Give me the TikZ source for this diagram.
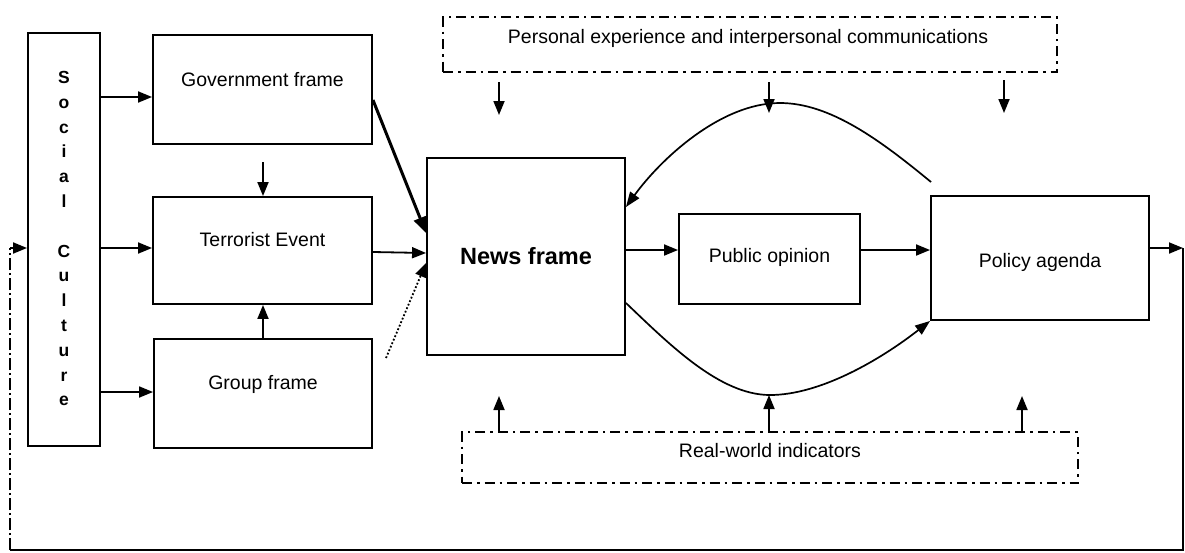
\documentclass[tikz,border=0pt]{standalone}
\usepackage{fontspec}
\setmainfont{Liberation Sans}
\usetikzlibrary{arrows.meta,calc}
\begin{document}
\begin{tikzpicture}[x=1pt,y=-1pt,
  box/.style={draw,line width=1.9pt,inner sep=0pt},
  dbox/.style={draw,line width=2.8pt,inner sep=0pt,dash pattern=on 10pt off 5pt on 2.5pt off 5pt},
  txt/.style={font=\fontsize{19.5}{22}\selectfont,inner sep=0pt},
  arr/.style={line width=1.8pt,-{Triangle[length=14pt,width=11pt]}},
  tharr/.style={line width=3pt,-{Triangle[length=16pt,width=13pt]}},
  dotarr/.style={line width=1.8pt,dotted,-{Triangle[length=14pt,width=11pt]}},
  curvearr/.style={line width=1.7pt,-{Triangle[length=15pt,width=11pt]}},
  loopline/.style={line width=1.6pt},
  loopdash/.style={line width=1.6pt,dash pattern=on 12pt off 3pt on 2pt off 3pt},
]
\useasboundingbox (0,0) rectangle (1185,552);

% boxes
\node[box,minimum width=72pt,minimum height=413pt] (soc) at (64,239.5) {};
\node[font=\fontsize{17.5}{24.8}\selectfont\bfseries,align=center,inner sep=0pt,anchor=north] (soctxt) at (64,71)
  {S\\o\\c\\i\\a\\l\\[24.8pt]C\\u\\l\\t\\u\\r\\e};
\node[box,minimum width=219pt,minimum height=109pt] (gov) at (262.5,89.5) {};
\node[txt] (govtxt) at (262.5,80) {Government frame};
\node[box,minimum width=219pt,minimum height=107pt] (ter) at (262.5,250.5) {};
\node[txt] (tertxt) at (262.5,240) {Terrorist Event};
\node[box,minimum width=218pt,minimum height=109pt] (grp) at (263,393.5) {};
\node[txt] (grptxt) at (263,384) {Group frame};
\node[box,minimum width=198pt,minimum height=197pt] (news) at (526,256.5) {};
\node[font=\fontsize{23.5}{26}\selectfont\bfseries,inner sep=0pt] (newstxt) at (526,256) {News frame};
\node[box,minimum width=181pt,minimum height=90pt] (pub) at (769.5,259) {};
\node[txt] (pubtxt) at (769.5,257) {Public opinion};
\node[box,minimum width=218pt,minimum height=124pt] (pol) at (1040,258) {};
\node[txt] (poltxt) at (1040,262) {Policy agenda};
\node[dbox,minimum width=614pt,minimum height=55pt] (pers) at (750,44.5) {};
\node[txt] (perstxt) at (748,38) {Personal experience and interpersonal communications};
\node[dbox,minimum width=616pt,minimum height=51pt] (real) at (770,457.5) {};
\node[txt] (realtxt) at (770,451) {Real-world indicators};

% social culture -> frames
\draw[arr] (soc.east |- 0,97) -- (gov.west |- 0,97);
\draw[arr] (soc.east |- 0,248) -- (ter.west |- 0,248);
\draw[arr] (soc.east |- 0,392) -- (grp.west |- 0,392);

% government / group -> terrorist event
\coordinate (g2t) at (263,162);
\draw[arr] (g2t) -- (ter.north -| g2t);
\draw[arr] (grp.north -| g2t) -- (ter.south -| g2t);

% frames -> news frame
\draw[tharr] (gov.east |- 0,100) -- (news.west |- 0,233);
\draw[arr] (ter.east |- 0,252) -- (news.west |- 0,253);
\coordinate (grpdot) at (386,358);
\draw[dotarr] (grpdot) -- (news.west |- 0,263);

% main chain
\draw[arr] (news.east |- 0,250) -- (pub.west |- 0,250);
\draw[arr] (pub.east |- 0,250) -- (pol.west |- 0,250);

% feedback curves
\coordinate (polup) at ($(pol.north west)+(1,-13)$);
\coordinate (toppeak) at (780,103);
\coordinate (botpeak) at (770,395);
\draw[curvearr] (polup) .. controls (880,140) and (830,103) .. (toppeak)
  .. controls (720,103) and (660,160) .. (news.east |- 0,207);
\draw[curvearr] (news.east |- 0,303) .. controls (670,345) and (720,395) .. (botpeak)
  .. controls (820,395) and (880,360) .. (pol.south west);

% personal experience arrows
\coordinate (p1) at (499,115);
\coordinate (p2) at (769,113);
\coordinate (p3) at (1004,113);
\draw[arr] (p1 |- 0,82) -- (p1);
\draw[arr] (p2 |- 0,82) -- (p2);
\draw[arr] (p3 |- 0,80) -- (p3);

% real-world arrows
\coordinate (r1) at (499,396);
\coordinate (r2) at (769,395);
\coordinate (r3) at (1022,396);
\draw[arr] (real.north -| r1) -- (r1);
\draw[arr] (real.north -| r2) -- (r2);
\draw[arr] (real.north -| r3) -- (r3);

% outer loop
\coordinate (lr) at (1183,248);
\coordinate (lbr) at (1183,550);
\coordinate (lbl) at (10,550);
\coordinate (ll) at (10,248);
\draw[arr] (pol.east |- lr) -- (lr);
\draw[loopline] (lr) -- (lbr) -- (lbl);
\draw[loopdash] (lbl) -- (ll);
\draw[arr] (ll) -- (soc.west |- ll);
\end{tikzpicture}
\end{document}
